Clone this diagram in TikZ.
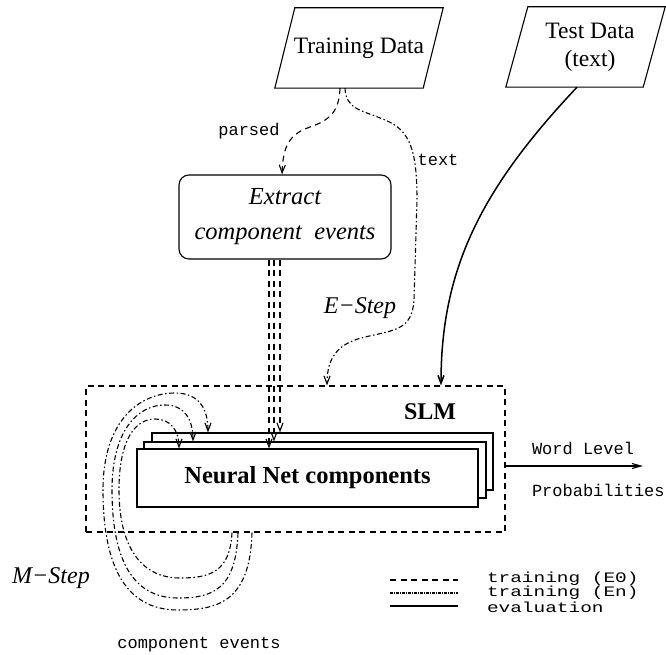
\documentclass[tikz,border=0pt]{standalone}
\usepackage{fontspec}
\setmainfont{Liberation Serif}
\setmonofont{Liberation Mono}
\usetikzlibrary{arrows.meta}
\begin{document}
\begin{tikzpicture}[x=1pt,y=-1pt,
  base/.style={line width=1.1pt},
  ezero/.style={base, dash pattern=on 6pt off 4.5pt},
  enline/.style={base, dash pattern=on 5pt off 2.5pt on 1.5pt off 2.5pt},
  evalline/.style={line width=1.5pt},
  tip/.style={-{Straight Barb[length=8pt,width=6pt]}},
  lbl/.style={inner sep=0pt, outer sep=0pt},
  mono/.style={font=\ttfamily\fontsize{17}{20}\selectfont},
  legtext/.style={lbl, anchor=west, font=\ttfamily\fontsize{14.5}{16}\selectfont},
  serifbig/.style={font=\fontsize{23.5}{28}\selectfont},
  databox/.style={inner sep=0pt, minimum height=80pt, align=center, serifbig},
  nnbox/.style={draw, base, fill=white, inner sep=0pt},
]
\useasboundingbox (0,0) rectangle (666,655);

% data parallelograms
\node[databox, minimum width=148pt] (train) at (359,48) {Training Data};
\draw[base] ([xshift=10pt]train.north west) -- ([xshift=10pt]train.north east)
  -- ([xshift=-10pt]train.south east) -- ([xshift=-10pt]train.south west) -- cycle;
\node[databox, minimum width=137pt] (test) at (585.5,47) {\hspace*{9pt}Test Data\\\hspace*{9pt}(text)};
\draw[base] ([xshift=11pt]test.north west) -- ([xshift=11pt]test.north east)
  -- ([xshift=-11pt]test.south east) -- ([xshift=-11pt]test.south west) -- cycle;

% extract box
\node[draw, base, rounded corners=10pt, minimum width=212pt, minimum height=84pt,
  inner sep=0pt, align=center, font=\itshape\fontsize{24.5}{35}\selectfont]
  (ext) at (285,217) {Extract\\component\ \ events};

% SLM box
\node[draw, base, dash pattern=on 6pt off 4.5pt, minimum width=419pt, minimum height=146pt, inner sep=0pt]
  (slm) at (295.5,459) {};
\node[lbl, font=\bfseries\fontsize{24}{28}\selectfont] (slmlabel) at (430,412) {SLM};

% neural net boxes
\node[nnbox, minimum width=341pt, minimum height=57pt] (nn3) at (322.5,461.5) {};
\node[nnbox, minimum width=342pt, minimum height=56pt] (nn2) at (315,470) {};
\node[nnbox, minimum width=341pt, minimum height=58pt, font=\bfseries\fontsize{24.5}{28}\selectfont]
  (nn1) at (307.5,478) {Neural Net components};

% parsed
\draw[ezero, tip] ([xshift=-19pt]train.south) .. controls (339,112) and (330,120) .. (310,127)
  .. controls (290,134) and (283,145) .. ([xshift=-3pt]ext.north);
\node[lbl, mono] (parsedlbl) at (249,131) {parsed};

% text / E-step
\draw[enline, tip] ([xshift=-14pt]train.south) .. controls (346,110) and (362,110) .. (385,120)
  .. controls (410,130) and (417,150) .. (417,200) -- (414,300)
  .. controls (412,330) and (395,330) .. (365,337)
  .. controls (340,343) and (327,355) .. ([xshift=31.5pt]slm.north);
\node[lbl, mono] (textlbl) at (438,160) {text};
\node[lbl, font=\itshape\fontsize{24}{28}\selectfont] (estep) at (360,308) {E−Step};

% evaluation
\draw[evalline, tip] ([xshift=-8.5pt]test.south) .. controls (480,190) and (441,270) .. ([xshift=145.5pt]slm.north);

% extracted component events (E0)
\draw[ezero, tip] ([xshift=-16pt]ext.south) -- ([xshift=-16pt]ext.south |- nn1.north);
\draw[ezero, tip] ([xshift=-11pt]ext.south) -- ([xshift=-11pt]ext.south |- nn2.north);
\draw[ezero, tip] ([xshift=-5pt]ext.south) -- ([xshift=-5pt]ext.south |- nn3.north);

% M-step loops
\draw[enline, tip] ([xshift=-43.5pt]slm.south) .. controls (250,600) and (220,610) .. (178,610)
  .. controls (122,610) and (103,560) .. (103,490)
  .. controls (103,420) and (140,393) .. (175,393)
  .. controls (200,393) and (208,410) .. ([xshift=-114.5pt]nn3.north);
\draw[enline, tip] ([xshift=-57.5pt]slm.south) .. controls (236,590) and (212,598) .. (178,598)
  .. controls (130,598) and (112,555) .. (112,490)
  .. controls (112,430) and (138,405) .. (165,405)
  .. controls (185,405) and (193,420) .. ([xshift=-122pt]nn2.north);
\draw[enline, tip] ([xshift=-63.5pt]slm.south) .. controls (230,572) and (210,578) .. (180,578)
  .. controls (140,578) and (119,545) .. (119,490)
  .. controls (119,440) and (135,419) .. (155,419)
  .. controls (170,419) and (179,430) .. ([xshift=-128.5pt]nn1.north);
\node[lbl, font=\itshape\fontsize{24}{28}\selectfont] (mstep) at (51,578) {M−Step};
\node[lbl, mono] (celbl) at (199,645) {component events};

% output
\coordinate (wout) at (643,466);
\draw[base, -{Straight Barb[length=9pt,width=5pt]}] ([yshift=-7pt]slm.east) -- (wout);
\node[lbl, mono, anchor=west] (wl) at (532,448) {Word Level};
\node[lbl, mono, anchor=west] (prob) at (532,490) {Probabilities};

% legend
\coordinate (la1) at (390,580); \coordinate (lb1) at (458,580);
\coordinate (la2) at (390,593); \coordinate (lb2) at (458,593);
\coordinate (la3) at (390,606); \coordinate (lb3) at (458,606);
\draw[ezero] (la1) -- (lb1);
\draw[base, dash pattern=on 3pt off 1pt on 1pt off 1pt] (la2) -- (lb2);
\draw[evalline] (la3) -- (lb3);
\node[legtext] (leg1) at (487,579) {\scalebox{1.34}[1]{training (E0)}};
\node[legtext] (leg2) at (487,593) {\scalebox{1.34}[1]{training (En)}};
\node[legtext] (leg3) at (487,607) {\scalebox{1.34}[1]{evaluation}};
\end{tikzpicture}
\end{document}
